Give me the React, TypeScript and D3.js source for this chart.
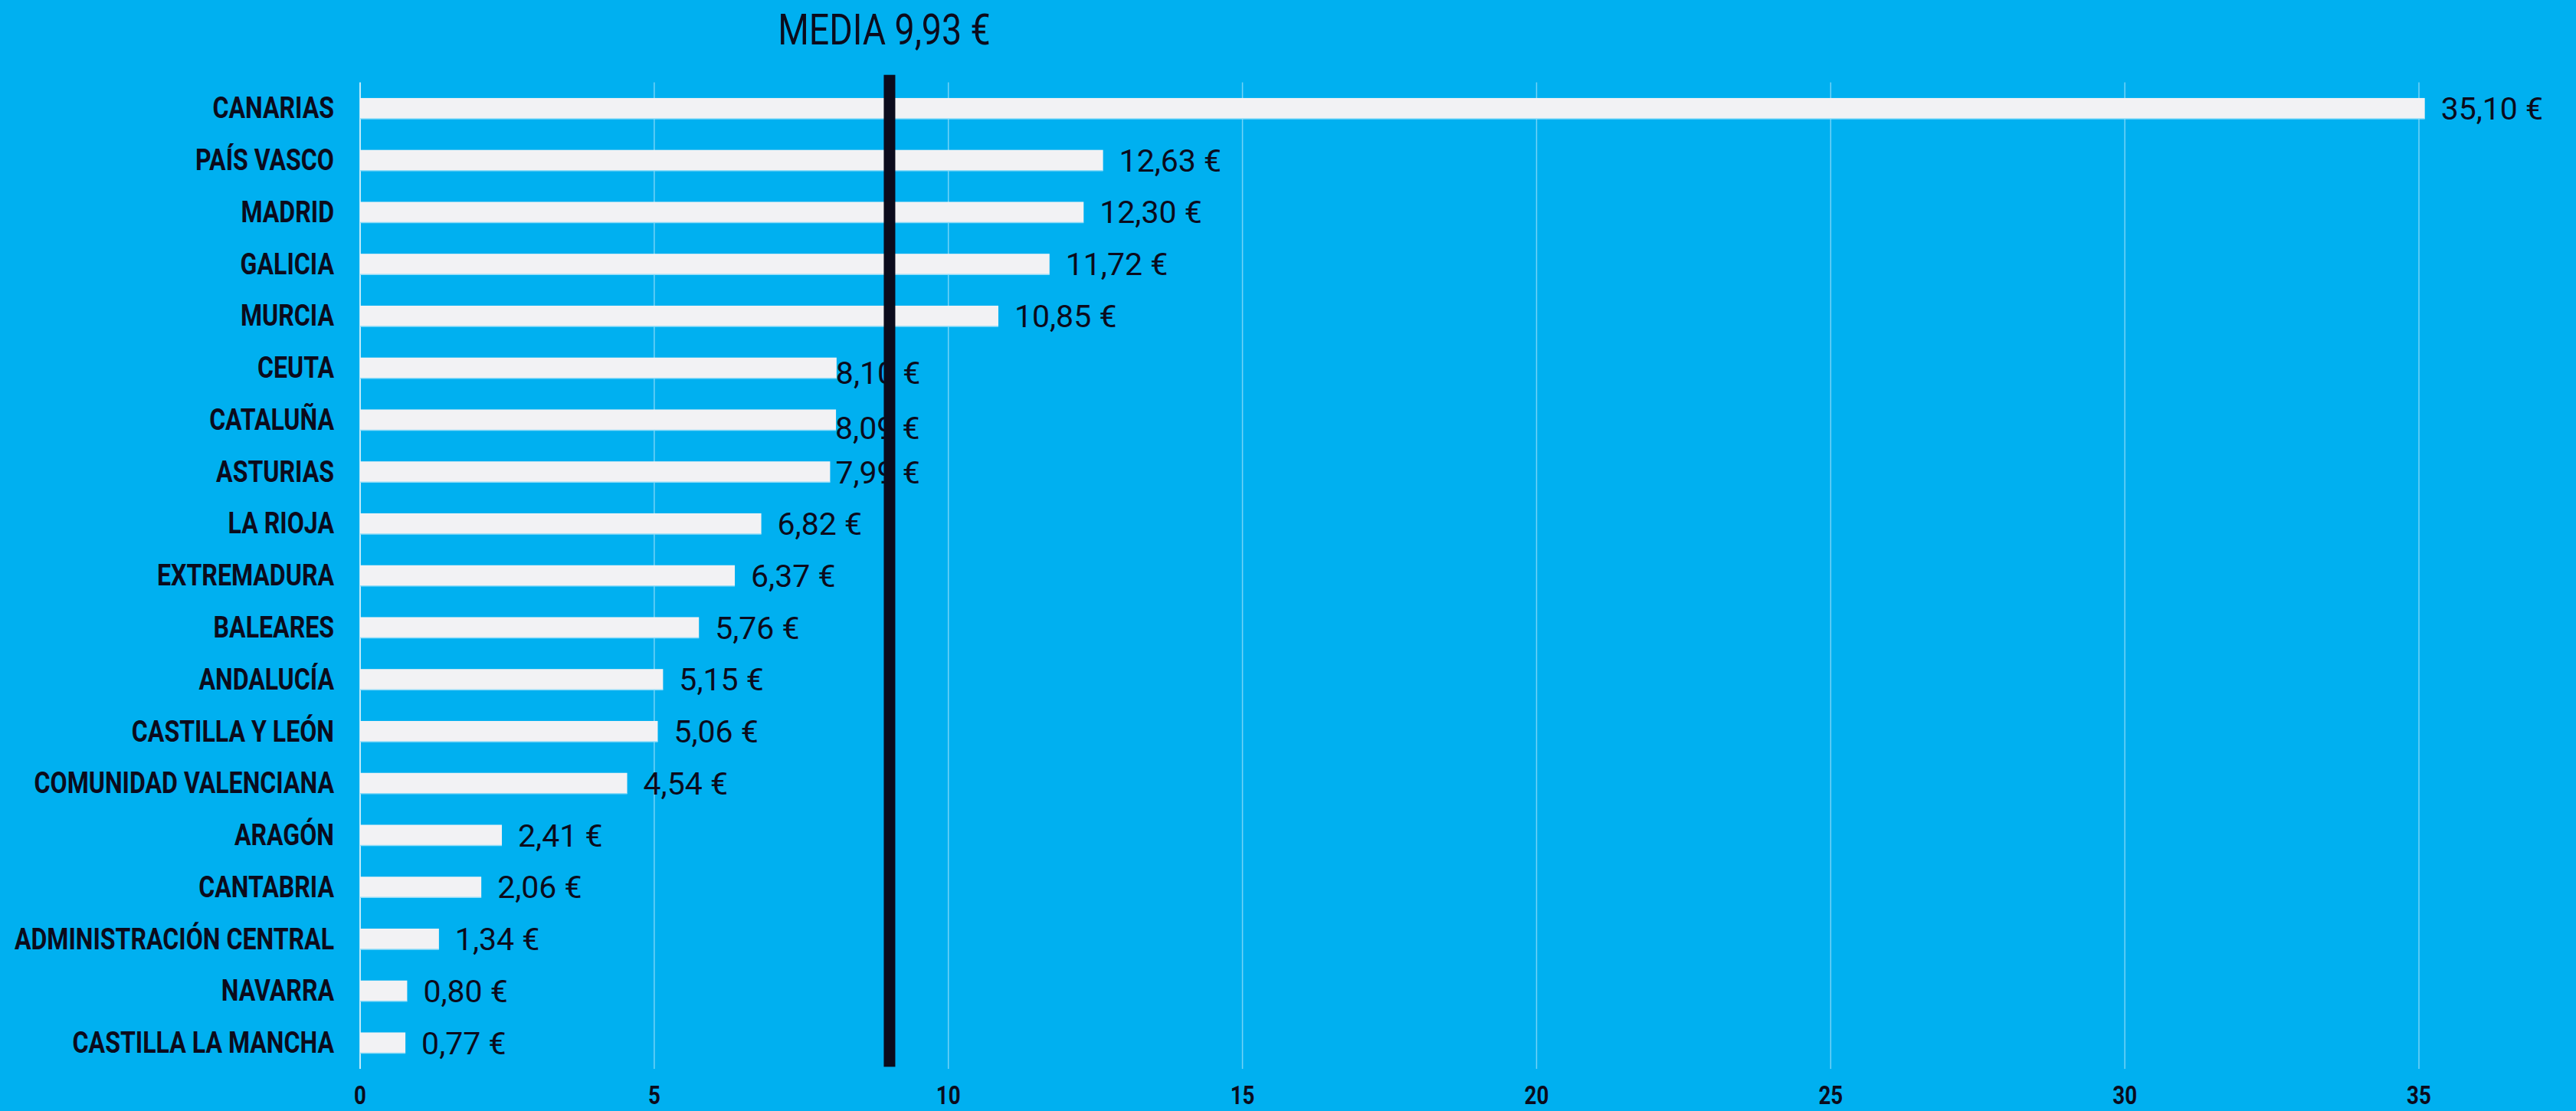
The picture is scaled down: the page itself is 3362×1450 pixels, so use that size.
import { scaleBand, scaleLinear } from "d3";

const regions = [
  "CANARIAS",
  "PAÍS VASCO",
  "MADRID",
  "GALICIA",
  "MURCIA",
  "CEUTA",
  "CATALUÑA",
  "ASTURIAS",
  "LA RIOJA",
  "EXTREMADURA",
  "BALEARES",
  "ANDALUCÍA",
  "CASTILLA Y LEÓN",
  "COMUNIDAD VALENCIANA",
  "ARAGÓN",
  "CANTABRIA",
  "ADMINISTRACIÓN CENTRAL",
  "NAVARRA",
  "CASTILLA LA MANCHA"
];
const amounts = [35.1, 12.63, 12.3, 11.72, 10.85, 8.1, 8.09, 7.99, 6.82, 6.37, 5.76, 5.15, 5.06, 4.54, 2.41, 2.06, 1.34, 0.8, 0.77];
const xTicks = [0, 5, 10, 15, 20, 25, 30, 35];
const meanLabel = 9.93;
const meanMarker = 9; // where the marker line sits in the picture

// labels that were dragged by hand in the original
const labelNudge: Record<string, { dx: number; dy: number }> = {
  CEUTA: { dx: -22, dy: 6 },
  "CATALUÑA": { dx: -22, dy: 11 },
  ASTURIAS: { dx: -14, dy: 1 }
};

const BG = "#00B0F0";
const INK = "#0B0B1C";
const BAR = "#F2F2F4";

function euro(v: number) {
  return `${v.toFixed(2).replace(".", ",")} €`;
}

function Condensed({
  x,
  y,
  size,
  weight,
  anchor,
  children,
  squeeze = 0.84
}: {
  x: number;
  y: number;
  size: number;
  weight: number;
  anchor: "start" | "middle" | "end";
  children: string;
  squeeze?: number;
}) {
  return (
    <g transform={`translate(${x}, ${y}) scale(${squeeze}, 1)`}>
      <text x={0} y={0} textAnchor={anchor} fontSize={size} fontWeight={weight} fill={INK} fontFamily="Roboto, sans-serif">
        {children}
      </text>
    </g>
  );
}

export default function App() {
  const width = 3362;
  const height = 1450;
  const plot = { left: 470, right: 3157, top: 107.6, bottom: 1394.9 };

  const x = scaleLinear().domain([0, 35]).range([plot.left, plot.right]);
  const y = scaleBand<string>()
    .domain(regions)
    .range([plot.top, plot.bottom])
    .paddingInner(0.6)
    .paddingOuter(0.3);
  const bw = y.bandwidth();

  return (
    <svg
      width={width}
      height={height}
      viewBox={`0 0 ${width} ${height}`}
      style={{ position: "absolute", left: 0, top: 0, display: "block" }}
    >
      <rect x={0} y={0} width={width} height={height} fill={BG} />

      <Condensed x={x(meanMarker) - 7} y={58} size={56} weight={400} anchor="middle" squeeze={0.83}>
        {`MEDIA ${meanLabel.toFixed(2).replace(".", ",")} €`}
      </Condensed>

      {xTicks.map((t) => (
        <g key={t}>
          <line
            x1={x(t)}
            x2={x(t)}
            y1={plot.top}
            y2={plot.bottom}
            stroke="#ffffff"
            strokeOpacity={t === 0 ? 0.75 : 0.45}
            strokeWidth={t === 0 ? 2 : 1.5}
          />
          <Condensed x={x(t)} y={1441} size={33} weight={700} anchor="middle">
            {String(t)}
          </Condensed>
        </g>
      ))}

      {regions.map((r, i) => {
        const top = y(r) ?? 0;
        const cy = top + bw / 2;
        const v = amounts[i];
        const nudge = labelNudge[r] ?? { dx: 0, dy: 0 };
        return (
          <g key={r}>
            <rect x={x(0)} y={top} width={x(v) - x(0)} height={bw} fill={BAR} />
            <line x1={x(0)} x2={x(v)} y1={top + bw} y2={top + bw} stroke="#8fdcf8" strokeWidth={1.5} />
            <Condensed x={436} y={cy + 13} size={38} weight={700} anchor="end" squeeze={0.845}>
              {r}
            </Condensed>
            <text
              x={x(v) + 21 + nudge.dx}
              y={cy + 14.5 + nudge.dy}
              fontSize={41}
              fontFamily="Roboto, sans-serif"
              fill={INK}
            >
              {euro(v)}
            </text>
          </g>
        );
      })}

      <rect x={x(meanMarker) - 7.5} y={97.7} width={15} height={1392.3 - 97.7} fill={INK} />
    </svg>
  );
}
